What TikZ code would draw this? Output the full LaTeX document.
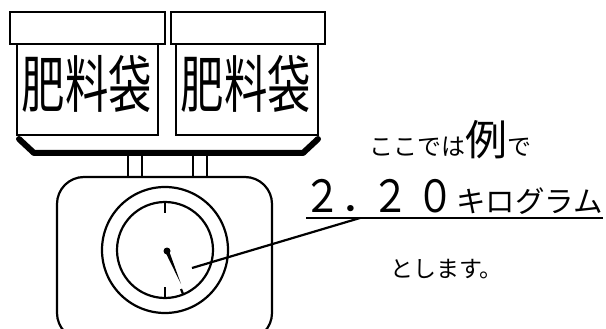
\documentclass[tikz,border=0pt]{standalone}
\usepackage{fontspec}
\setmainfont{Noto Sans CJK JP}
\begin{document}
\begin{tikzpicture}[x=1pt,y=-1pt,
  outline/.style={draw=black,line width=2.2pt},
  traybar/.style={draw=black,line width=6pt,line cap=round,line join=round},
  baglabel/.style={inner sep=0pt,xscale=0.7,font=\fontsize{62}{62}\selectfont},
  note/.style={inner sep=0pt,anchor=base west},
  bigdigit/.style={inner sep=0pt,anchor=base,yscale=1.17,font=\fontsize{38}{38}\selectfont}]
\useasboundingbox (0,0) rectangle (606,329);
% fertilizer bags: lid + body
\draw[outline] (10,12) rectangle (165,44);
\draw[outline] (17,44) rectangle (158,135);
\draw[outline] (171,12) rectangle (325,44);
\draw[outline] (176,44) rectangle (318,135);
\node[baglabel] (bagA) at (87,84) {肥料袋};
\node[baglabel] (bagB) at (246,84) {肥料袋};
% weighing tray
\draw[traybar] (19,139) -- (34,153) -- (303,153) -- (318,139);
% posts holding the tray
\draw[outline] (128,156) -- (128,177) (142,156) -- (142,177);
\draw[outline] (193,156) -- (193,177) (207,156) -- (207,177);
% scale body
\draw[outline,rounded corners=27pt] (57,177) rectangle (272,340);
% dial
\coordinate (dial) at (165,250);
\draw[outline] (dial) circle[radius=63pt];
\draw[outline] (dial) circle[radius=48pt];
\draw[outline] (165,202) -- (165,213);
\draw[outline] (165,287) -- (165,298);
\draw[outline] (181,289) -- (183.2,294.4);
% needle
\coordinate (pivot) at (167,251);
\fill (168.8,250.2) -- (181,284) -- (165.2,251.8) -- cycle;
\fill (pivot) circle[radius=3.5pt];
% annotation text
\node[note,font=\fontsize{24}{24}\selectfont] (line1) at (369,155)
  {ここでは{\fontsize{42}{42}\selectfont 例}で};
\node[bigdigit] (d1) at (322.5,212) {２};
\node[note,font=\fontsize{28}{28}\selectfont\bfseries] (pt) at (342,212) {．};
\node[bigdigit] (d2) at (390,212) {２};
\node[bigdigit] (d3) at (435.5,212) {０};
\node[note,font=\fontsize{29.5}{29.5}\selectfont] (kg) at (456,212) {キログラム};
\node[note,font=\fontsize{23}{23}\selectfont] (line3) at (390,277) {とします。};
% underline and leader
\coordinate (ulA) at (306,218);
\coordinate (ulB) at (603,218);
\coordinate (lead) at (360,218);
\coordinate (pointer) at (192,268);
\draw[line width=2.5pt] (ulA) -- (ulB);
\draw[outline] (pointer) -- (lead);
\end{tikzpicture}
\end{document}
